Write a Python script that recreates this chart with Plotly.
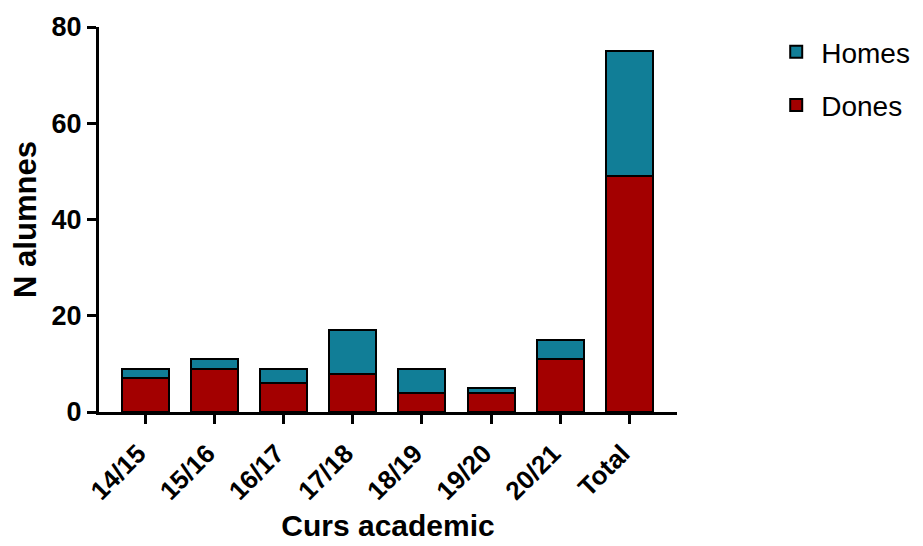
import plotly.graph_objects as go

categories = ["14/15", "15/16", "16/17", "17/18", "18/19", "19/20", "20/21", "Total"]
dones = [7, 9, 6, 8, 4, 4, 11, 49]
homes = [2, 2, 3, 9, 5, 1, 4, 26]
y_ticks = [0, 20, 40, 60, 80]

FONT = "Liberation Sans, Arial, Helvetica, sans-serif"
RED = "#A30000"
TEAL = "#117E97"

fig = go.Figure()
fig.add_trace(go.Bar(x=categories, y=dones, name="Dones", marker=dict(color=RED, line=dict(color="black", width=2)),
                     width=0.68, legendgroup="d", legendrank=2))
fig.add_trace(go.Bar(x=categories, y=homes, name="Homes", marker=dict(color=TEAL, line=dict(color="black", width=2)),
                     width=0.68, legendgroup="h", legendrank=1))

fig.update_layout(
    barmode="stack",
    width=923, height=546,
    margin=dict(l=91, r=254, t=19, b=142, autoexpand=False),
    plot_bgcolor="white", paper_bgcolor="white",
    font=dict(family=FONT, color="black"),
    legend=dict(traceorder="grouped", x=1.163, y=1.0, xanchor="left", yanchor="top",
                font=dict(size=28, family=FONT, color="black"), tracegroupgap=14,
                itemwidth=40, bgcolor="rgba(0,0,0,0)"),
    showlegend=True,
)
fig.update_xaxes(
    range=[-0.67, 7.69], showline=True, linecolor="black", linewidth=3,
    ticks="outside", ticklen=9, tickwidth=3, tickcolor="black",
    tickangle=-45, tickfont=dict(size=26, family=FONT, weight="bold"),
    ticklabelshift=-7, ticklabelstandoff=4,
    title=dict(text="Curs academic", font=dict(size=30, family=FONT, weight="bold"), standoff=11),
    showgrid=False, zeroline=False, automargin=False,
)
fig.update_yaxes(
    range=[0, 80], tickvals=y_ticks, showline=True, linecolor="black", linewidth=3,
    ticks="outside", ticklen=9, tickwidth=3, tickcolor="black",
    tickfont=dict(size=27, family=FONT, weight="bold"),
    title=dict(text="N alumnes", font=dict(size=31, family=FONT, weight="bold"), standoff=12),
    showgrid=False, zeroline=False, automargin=False,
)

fig.write_html("out.html")
